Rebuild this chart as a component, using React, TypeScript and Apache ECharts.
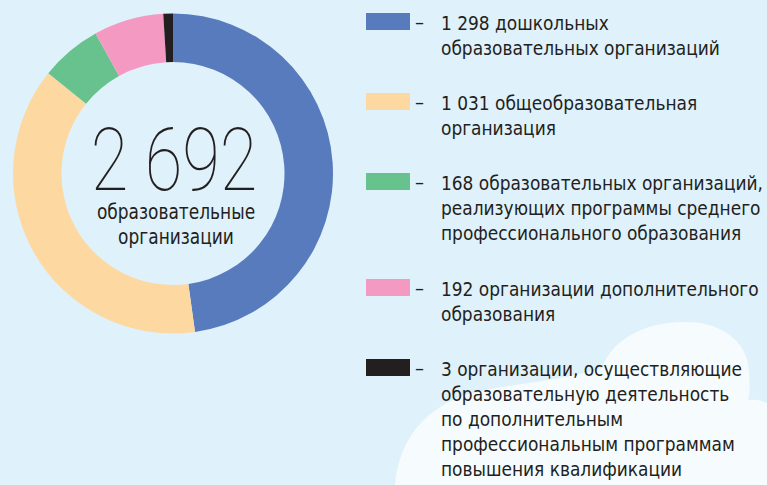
import React, { useEffect, useRef } from "react";
import * as echarts from "echarts";

const values = [1298, 1031, 168, 192, 3];
const descriptions = [
  "дошкольных\nобразовательных организаций",
  "общеобразовательная\nорганизация",
  "образовательных организаций,\nреализующих программы среднего\nпрофессионального образования",
  "организации дополнительного\nобразования",
  "организации, осуществляющие\nобразовательную деятельность\nпо дополнительным\nпрофессиональным программам\nповышения квалификации",
];
const colors = ["#587bbd", "#fdd9a1", "#68c28e", "#f49ac2", "#231f20"];
const centerCaption = "образовательные\nорганизации";
const legendTops = [13, 93, 173, 279, 359];

const fmt = (n: number) => String(n).replace(/\B(?=(\d{3})+(?!\d))/g, " ");

const CLOUD =
  "M395 486 C398 445 420 412 462 396 C505 383 560 382 602 368 C615 332 660 318 700 323 C732 329 748 348 749 372 C750 385 750 393 748 400 C757 399 764 401 768 404 L768 486 Z";

echarts.graphic.registerShape("cloud", echarts.graphic.extendPath(CLOUD, {}) as any);

const FONT = "'DejaVu Sans Condensed', 'Noto Sans', sans-serif";

export default function App() {
  const ref = useRef<HTMLDivElement>(null);
  useEffect(() => {
    const chart = echarts.init(ref.current!, undefined, { renderer: "svg" });
    const total = values.reduce((a, b) => a + b, 0);
    const legendEls: any[] = [];
    values.forEach((v, i) => {
      const top = legendTops[i];
      legendEls.push({
        type: "rect",
        shape: { x: 366, y: top, width: 44, height: 17 },
        style: { fill: colors[i] },
      });
      legendEls.push({
        type: "text",
        x: 415,
        y: top + 9,
        style: { text: "–", font: `20px ${FONT}`, fill: "#231f20", verticalAlign: "middle" },
      });
      legendEls.push({
        type: "text",
        x: 441,
        y: top + 8.5 - 12.5 + 1.5,
        scaleX: 0.945,
        style: {
          text: `${fmt(v)} ${descriptions[i]}`,
          font: `20px ${FONT}`,
          lineHeight: 25,
          fill: "#231f20",
          verticalAlign: "top",
        },
      });
    });
    chart.setOption({
      animation: false,
      backgroundColor: "#dff1fb",
      graphic: [
        { type: "cloud", x: 0, y: 0, z: -1, style: { fill: "#f6fbfe" } } as any,
        {
          type: "text",
          x: 174,
          y: 160,
          scaleX: 0.78,
          style: {
            text: fmt(total),
            font: `100 88px Roboto, 'Open Sans', sans-serif`,
            fill: "#231f20",
            align: "center",
            verticalAlign: "middle",
          },
        },
        {
          type: "text",
          x: 176,
          y: 199,
          scaleX: 0.9,
          style: {
            text: centerCaption,
            font: `21px ${FONT}`,
            lineHeight: 25,
            fill: "#231f20",
            align: "center",
            verticalAlign: "top",
          },
        },
        ...legendEls,
      ],
      series: [
        {
          type: "pie",
          center: [173, 173.5],
          radius: [111.5, 160],
          startAngle: 90,
          clockwise: true,
          minAngle: 3.5,
          label: { show: false },
          labelLine: { show: false },
          emphasis: { disabled: true },
          data: values.map((v, i) => ({ value: v, name: String(i), itemStyle: { color: colors[i] } })),
        },
      ],
    });
    return () => chart.dispose();
  }, []);
  return (
    <div
      ref={ref}
      style={{ position: "absolute", left: 0, top: 0, width: 767, height: 485 }}
    />
  );
}
